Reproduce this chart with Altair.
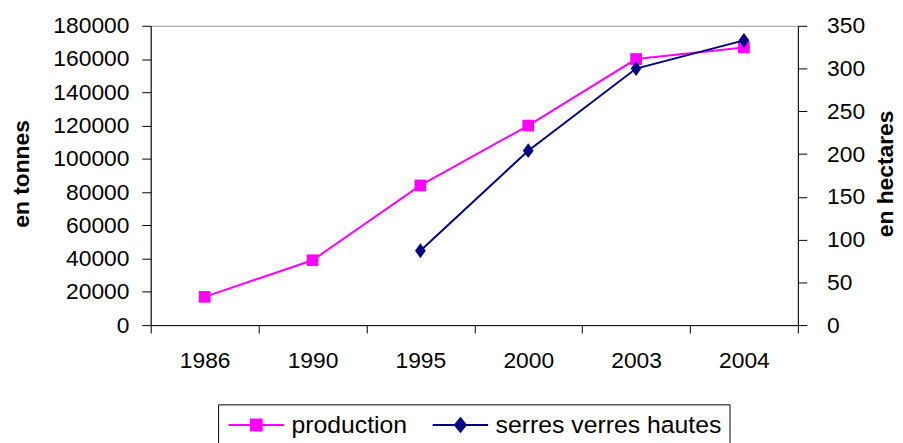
import altair as alt
import pandas as pd

years = ["1986", "1990", "1995", "2000", "2003", "2004"]
production = [17000, 39000, 84000, 120000, 160000, 167000]
serres = [None, None, 87, 204, 300, 333]

series_names = ["production", "serres verres hautes"]
series_colors = ["#FF00FF", "#000080"]
left_ticks = list(range(0, 180001, 20000))
right_ticks = list(range(0, 351, 50))

rows = []
for y, v in zip(years, production):
    rows.append({"year": y, "value": v, "series": series_names[0]})
for y, v in zip(years, serres):
    if v is not None:
        rows.append({"year": y, "value": v, "series": series_names[1]})
df = pd.DataFrame(rows)

FONT = "Liberation Sans"

# legend symbols: a line segment with the series marker in its middle
sq_legend = "M-1,0H4.6M1.25,-0.55H2.35V0.55H1.25Z"
di_legend = "M-1,0H4.6M1.8,-0.68L2.35,0L1.8,0.68L1.25,0Z"

legend = alt.Legend(
    title=None,
    orient="none",
    legendX=68,
    legendY=382,
    direction="horizontal",
    strokeColor="black",
    fillColor="white",
    padding=8,
    symbolSize=400,
    symbolStrokeWidth=2,
    labelFontSize=25,
    labelFont=FONT,
    labelColor="black",
    labelOffset=41,
    columnPadding=21,
    labelLimit=500,
)

color = alt.Color(
    "series:N",
    scale=alt.Scale(domain=series_names, range=series_colors),
    legend=legend,
)

x = alt.X(
    "year:O",
    sort=years,
    bandPosition=0.5,
    scale=alt.Scale(type="band", domain=years, paddingInner=0, paddingOuter=0),
    axis=alt.Axis(
        title=None,
        labelAngle=0,
        tickBand="extent",
        tickSize=8,
        labelPadding=17,
        labelFontSize=23,
        labelFont=FONT,
        labelColor="black",
        domainColor="black",
        tickColor="black",
        grid=False,
    ),
)

y_left = alt.Y(
    "value:Q",
    scale=alt.Scale(domain=[0, 180000], nice=False),
    axis=alt.Axis(
        title="en tonnes",
        values=left_ticks,
        format="d",
        orient="left",
        tickSize=9,
        labelPadding=13,
        labelFontSize=23,
        labelFont=FONT,
        labelColor="black",
        domainColor="black",
        tickColor="black",
        grid=False,
        titleFont=FONT,
        titleFontSize=23,
        titleFontWeight="bold",
        titleColor="black",
        titleAngle=270,
        titleAlign="center",
        titleBaseline="middle",
        titleX=-130,
        titleY=149,
    ),
)

y_right = alt.Y(
    "value:Q",
    scale=alt.Scale(domain=[0, 350], nice=False),
    axis=alt.Axis(
        title="en hectares",
        values=right_ticks,
        format="d",
        orient="right",
        tickSize=9,
        labelPadding=20,
        labelFontSize=23,
        labelFont=FONT,
        labelColor="black",
        domainColor="black",
        tickColor="black",
        grid=False,
        titleFont=FONT,
        titleFontSize=23,
        titleFontWeight="bold",
        titleColor="black",
        titleAngle=270,
        titleAlign="center",
        titleBaseline="middle",
        titleX=88,
        titleY=149,
    ),
)

base = alt.Chart(df)

prod = base.transform_filter(alt.datum.series == "production")
# legend carrier: zero-size points, they only feed the legend's shape/fill/stroke
legend_marks = prod.mark_point(filled=True, opacity=1, strokeWidth=2, size=0).encode(
    x=x,
    y=y_left,
    shape=alt.Shape("series:N", scale=alt.Scale(domain=series_names, range=[sq_legend, di_legend]), legend=legend),
    fill=alt.Fill("series:N", scale=alt.Scale(domain=series_names, range=series_colors), legend=legend),
    stroke=alt.Stroke("series:N", scale=alt.Scale(domain=series_names, range=series_colors), legend=legend),
)
prod_layer = alt.layer(
    prod.mark_line(strokeWidth=2).encode(x=x, y=y_left, color=color),
    prod.mark_point(shape="square", size=140, filled=True, opacity=1).encode(x=x, y=y_left, color=color),
    legend_marks,
)

ser = base.transform_filter(alt.datum.series == "serres verres hautes")
ser_layer = alt.layer(
    ser.mark_line(strokeWidth=2).encode(x=x, y=y_right, color=color),
    ser.mark_point(shape="M0,-1L0.72,0L0,1L-0.72,0Z", size=225, filled=True, opacity=1).encode(x=x, y=y_right, color=color),
)

chart = (
    alt.layer(prod_layer, ser_layer)
    .resolve_scale(y="independent")
    .properties(
        width=653,
        height=302,
        autosize=alt.AutoSizeParams(type="none"),
        padding={"left": 144, "top": 16, "right": 98, "bottom": 117},
        background="white",
    )
    .configure_view(stroke="#999999", strokeWidth=1)
)

chart.save("out.html", embed_options={"renderer": "svg", "actions": False})
